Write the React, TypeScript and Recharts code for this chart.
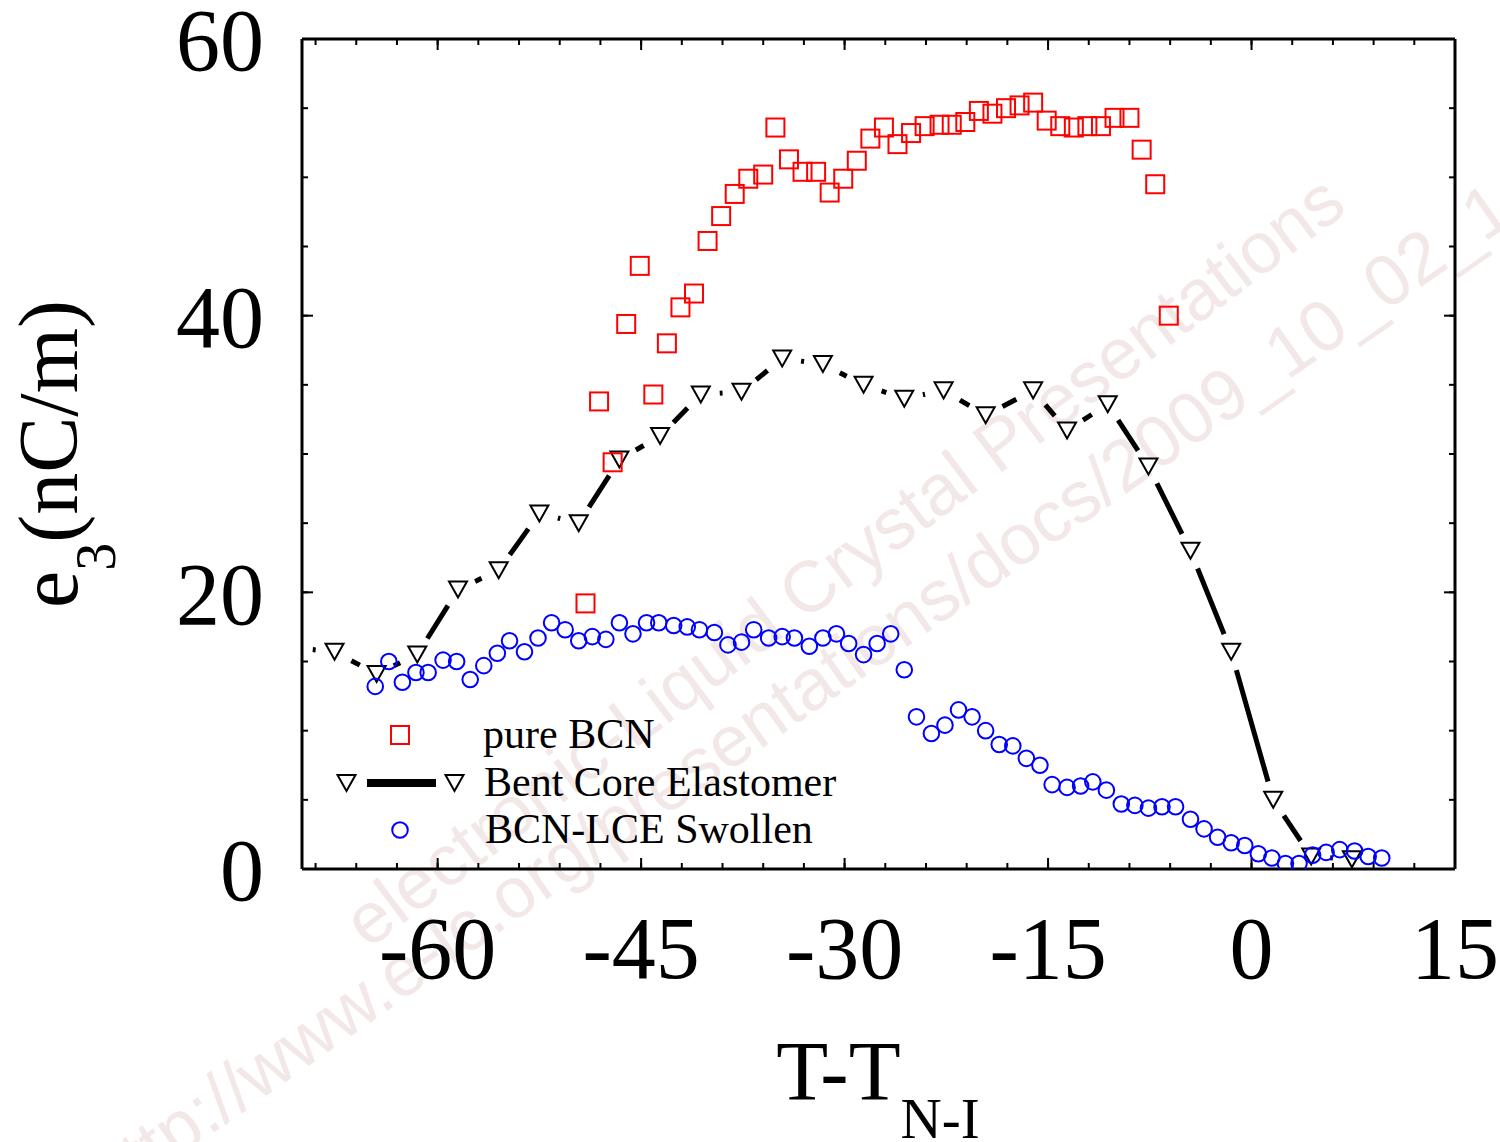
import React from "react";
import { ComposedChart, Line, Scatter, XAxis, YAxis, ReferenceLine } from "recharts";

// pure BCN (red squares)
const pureT = [
  -49.1, -48.1, -47.1, -46.1, -45.1, -44.1, -43.1, -42.1, -41.1, -40.1, -39.1,
  -38.1, -37.1, -36.0, -35.1, -34.1, -33.1, -32.1, -31.1, -30.1, -29.1, -28.1,
  -27.1, -26.1, -25.1, -24.1, -23.0, -22.1, -21.1, -20.1, -19.1, -18.1, -17.1,
  -16.1, -15.1, -14.1, -13.1, -12.1, -11.1, -10.1, -9.0, -8.1, -7.1, -6.1,
];
const pureE3 = [
  19.2, 33.8, 29.4, 39.4, 43.6, 34.3, 38.0, 40.6, 41.6, 45.4, 47.2, 48.8, 49.9,
  50.2, 53.6, 51.3, 50.4, 50.4, 48.9, 49.9, 51.2, 52.8, 53.6, 52.4, 53.2, 53.7,
  53.8, 53.8, 54.0, 54.8, 54.6, 55.0, 55.2, 55.4, 54.1, 53.7, 53.6, 53.7, 53.7,
  54.3, 54.3, 52.0, 49.5, 40.0,
];

// Bent Core Elastomer (triangles + line), first point sits just left of the frame
const elastT = [
  -70.6, -67.6, -64.5, -61.5, -58.5, -55.5, -52.5, -49.6, -46.6, -43.6, -40.6,
  -37.6, -34.6, -31.6, -28.6, -25.6, -22.7, -19.6, -16.1, -13.6, -10.6, -7.6,
  -4.5, -1.5, 1.6, 4.4, 7.4,
];
const elastE3 = [
  16.0, 15.7, 14.1, 15.5, 20.2, 21.6, 25.7, 25.0, 29.6, 31.3, 34.3, 34.5, 36.9,
  36.5, 35.0, 34.0, 34.6, 32.8, 34.6, 31.7, 33.6, 29.1, 23.0, 15.7, 5.0, 0.9, 0.7,
];

// BCN-LCE Swollen (blue circles)
const swollenT = [
  -64.6, -63.6, -62.6, -61.6, -60.7, -59.6, -58.6, -57.6, -56.6, -55.6, -54.7,
  -53.6, -52.6, -51.6, -50.6, -49.6, -48.6, -47.6, -46.6, -45.6, -44.6, -43.7,
  -42.6, -41.6, -40.7, -39.6, -38.6, -37.6, -36.7, -35.6, -34.6, -33.7, -32.6,
  -31.6, -30.6, -29.7, -28.6, -27.6, -26.6, -25.6, -24.7, -23.6, -22.6, -21.6,
  -20.6, -19.6, -18.6, -17.6, -16.6, -15.6, -14.7, -13.6, -12.6, -11.7, -10.7,
  -9.6, -8.6, -7.6, -6.6, -5.6, -4.5, -3.5, -2.5, -1.5, -0.5, 0.5, 1.5, 2.5,
  3.5, 4.5, 5.5, 6.5, 7.6, 8.6, 9.6,
];
const swollenE3 = [
  13.2, 15.0, 13.5, 14.2, 14.2, 15.1, 15.0, 13.7, 14.7, 15.6, 16.5, 15.7, 16.7,
  17.8, 17.3, 16.5, 16.8, 16.6, 17.8, 17.0, 17.8, 17.8, 17.6, 17.5, 17.3, 17.1,
  16.2, 16.4, 17.3, 16.7, 16.8, 16.7, 16.1, 16.7, 17.0, 16.3, 15.5, 16.3, 17.0,
  14.4, 11.0, 9.8, 10.4, 11.5, 11.0, 10.0, 9.0, 8.9, 8.0, 7.5, 6.1, 5.9, 6.0,
  6.3, 5.7, 4.7, 4.6, 4.4, 4.5, 4.5, 3.6, 2.9, 2.3, 1.9, 1.7, 1.1, 0.8, 0.4, 0.4,
  1.0, 1.2, 1.4, 1.3, 0.9, 0.8,
];

const xMajor = [-60, -45, -30, -15, 0, 15];
const xMinor = [
  -69, -66, -63, -60, -57, -54, -51, -48, -45, -42, -39, -36, -33, -30, -27,
  -24, -21, -18, -15, -12, -9, -6, -3, 0, 3, 6, 9, 12, 15,
];
const yMajor = [0, 20, 40, 60];
const yMinor = [0, 5, 10, 15, 20, 25, 30, 35, 40, 45, 50, 55, 60];

const legendNames = ["pure BCN", "Bent Core Elastomer", "BCN-LCE Swollen"];

const X_DOMAIN: [number, number] = [-70, 15];
const Y_DOMAIN: [number, number] = [0, 60];

const zip = (xs: number[], ys: number[]) => xs.map((x, i) => ({ x, y: ys[i] }));
const pureData = zip(pureT, pureE3);
const elastData = zip(elastT, elastE3);
const swollenData = zip(swollenT, swollenE3);

const SERIF = "'Liberation Serif', 'Times New Roman', Times, serif";
const RED = "#ff0000";
const BLUE = "#0000ff";
const tickFont = { fontFamily: SERIF, fontSize: 88, fill: "#000" };
const frame = { stroke: "#000", strokeWidth: 3 };
const noLabel = () => <g />;

// plot box is 1153 x 830 px; the elastomer line is broken ~19px around every marker
const PX_X = 1153 / 85;
const PX_Y = 830 / 60;
const GAP = 19;
const elastDash = (() => {
  const parts: number[] = [0];
  let pending = 0;
  for (let i = 1; i < elastT.length; i++) {
    const len = Math.hypot((elastT[i] - elastT[i - 1]) * PX_X, (elastE3[i] - elastE3[i - 1]) * PX_Y);
    const g = Math.min(GAP, len / 2);
    parts.push(pending + g, len - 2 * g);
    pending = g;
  }
  parts.push(pending + 200);
  return parts.map((v) => v.toFixed(2)).join(" ");
})();

// tick lengths in data units (major 11px, minor 6px)
const tickLenY = (px: number) => px / PX_Y;
const tickLenX = (px: number) => px / PX_X;

const triangle = (cx: number, cy: number) =>
  `M${cx - 9},${cy - 8} L${cx + 9},${cy - 8} L${cx},${cy + 8} Z`;

const TriangleDot = (props: any) => {
  const { cx, cy, index, payload } = props;
  if (cx == null || cy == null || payload.x < X_DOMAIN[0]) return <g key={`t-${index}`} />;
  return <path key={`t-${index}`} d={triangle(cx, cy)} fill="#fff" stroke="#000" strokeWidth={2} />;
};

const SquareShape = (props: any) => (
  <rect x={props.cx - 9} y={props.cy - 9} width={18} height={18} fill="none" stroke={RED} strokeWidth={2} />
);

const CircleShape = (props: any) => (
  <circle cx={props.cx} cy={props.cy} r={7.8} fill="none" stroke={BLUE} strokeWidth={2} />
);

function LegendBox() {
  return (
    <svg width={1500} height={1142} style={{ position: "absolute", left: 0, top: 0, pointerEvents: "none" }}>
      <g fontFamily={SERIF} fontSize={42} fill="#000">
        <rect x={391} y={726} width={18} height={18} fill="none" stroke={RED} strokeWidth={2} />
        <text x={483} y={748}>{legendNames[0]}</text>
        <path d={triangle(346.5, 783)} fill="#fff" stroke="#000" strokeWidth={2} />
        <line x1={367} y1={783} x2={436} y2={783} stroke="#000" strokeWidth={8} />
        <path d={triangle(454.5, 783)} fill="#fff" stroke="#000" strokeWidth={2} />
        <text x={484} y={796}>{legendNames[1]}</text>
        <circle cx={400} cy={830} r={7.8} fill="none" stroke={BLUE} strokeWidth={2} />
        <text x={485} y={843}>{legendNames[2]}</text>
      </g>
    </svg>
  );
}

function Watermark() {
  return (
    <svg width={1500} height={1142} style={{ position: "absolute", left: 0, top: 0 }}>
      <g fontFamily="'Liberation Sans', Arial, sans-serif" fontSize={72} fill="#f3e8e8">
        <text transform="translate(368,950) rotate(-37)">electronic-Liquid Crystal Presentations</text>
        <text transform="translate(110,1205) rotate(-35)">http://www.e-lc.org/presentations/docs/2009_10_02_1</text>
      </g>
    </svg>
  );
}

const tickLine = (key: string, a: { x: number; y: number }, b: { x: number; y: number }) => (
  <ReferenceLine key={key} xAxisId="b" yAxisId="l" segment={[a, b]} stroke="#000" strokeWidth={2} />
);

export default function App() {
  const ticks = [
    ...xMajor.flatMap((t) => [
      tickLine(`bM${t}`, { x: t, y: Y_DOMAIN[0] }, { x: t, y: Y_DOMAIN[0] + tickLenY(11) }),
      tickLine(`tM${t}`, { x: t, y: Y_DOMAIN[1] }, { x: t, y: Y_DOMAIN[1] - tickLenY(11) }),
    ]),
    ...xMinor.flatMap((t) => [
      tickLine(`bm${t}`, { x: t, y: Y_DOMAIN[0] }, { x: t, y: Y_DOMAIN[0] + tickLenY(6) }),
      tickLine(`tm${t}`, { x: t, y: Y_DOMAIN[1] }, { x: t, y: Y_DOMAIN[1] - tickLenY(6) }),
    ]),
    ...yMajor.flatMap((v) => [
      tickLine(`lM${v}`, { x: X_DOMAIN[0], y: v }, { x: X_DOMAIN[0] + tickLenX(11), y: v }),
      tickLine(`rM${v}`, { x: X_DOMAIN[1], y: v }, { x: X_DOMAIN[1] - tickLenX(11), y: v }),
    ]),
    ...yMinor.flatMap((v) => [
      tickLine(`lm${v}`, { x: X_DOMAIN[0], y: v }, { x: X_DOMAIN[0] + tickLenX(6), y: v }),
      tickLine(`rm${v}`, { x: X_DOMAIN[1], y: v }, { x: X_DOMAIN[1] - tickLenX(6), y: v }),
    ]),
  ];

  return (
    <div style={{ position: "absolute", left: 0, top: 0, width: 1500, height: 1142, background: "#fff" }}>
      <Watermark />
      <div style={{ position: "absolute", left: 0, top: 0 }}>
        <ComposedChart width={1500} height={1142} margin={{ top: 39, right: 45, bottom: 272, left: 301 }}>
          {ticks}
          <Line
            xAxisId="b"
            yAxisId="l"
            type="linear"
            data={elastData}
            dataKey="y"
            stroke="#000"
            strokeWidth={5}
            strokeDasharray={elastDash}
            dot={TriangleDot}
            activeDot={false}
            isAnimationActive={false}
          />
          <Scatter xAxisId="b" yAxisId="l" data={pureData} dataKey="y" shape={SquareShape} isAnimationActive={false} />
          <Scatter xAxisId="b" yAxisId="l" data={swollenData} dataKey="y" shape={CircleShape} isAnimationActive={false} />

          <XAxis
            xAxisId="b"
            type="number"
            dataKey="x"
            domain={X_DOMAIN}
            allowDataOverflow
            ticks={xMajor}
            interval={0}
            height={1}
            tickSize={0}
            tickMargin={47}
            axisLine={frame}
            tickLine={false}
            tick={tickFont}
            label={{
              content: () => (
                <text x={878} y={1100} textAnchor="middle" fontFamily={SERIF} fontSize={85} fill="#000">
                  T-T
                  <tspan dy={38} fontSize={57}>N-I</tspan>
                </text>
              ),
            }}
          />
          <YAxis
            yAxisId="l"
            type="number"
            dataKey="y"
            domain={Y_DOMAIN}
            allowDataOverflow
            ticks={yMajor}
            interval={0}
            width={1}
            tickSize={0}
            tickMargin={38}
            axisLine={frame}
            tickLine={false}
            tick={tickFont}
            label={{
              content: () => (
                <text transform="rotate(-90)" x={-454} y={77} textAnchor="middle" fontFamily={SERIF} fontSize={84} fill="#000">
                  e
                  <tspan dy={38} fontSize={56}>3</tspan>
                  <tspan dy={-38}>(nC/m)</tspan>
                </text>
              ),
            }}
          />
          <XAxis xAxisId="t" mirror orientation="top" type="number" domain={X_DOMAIN} allowDataOverflow ticks={xMajor} interval={0} height={1} axisLine={frame} tickLine={false} tick={noLabel} />
          <YAxis yAxisId="r" mirror orientation="right" type="number" domain={Y_DOMAIN} allowDataOverflow ticks={yMajor} interval={0} width={1} axisLine={frame} tickLine={false} tick={noLabel} />
        </ComposedChart>
      </div>
      <LegendBox />
    </div>
  );
}
